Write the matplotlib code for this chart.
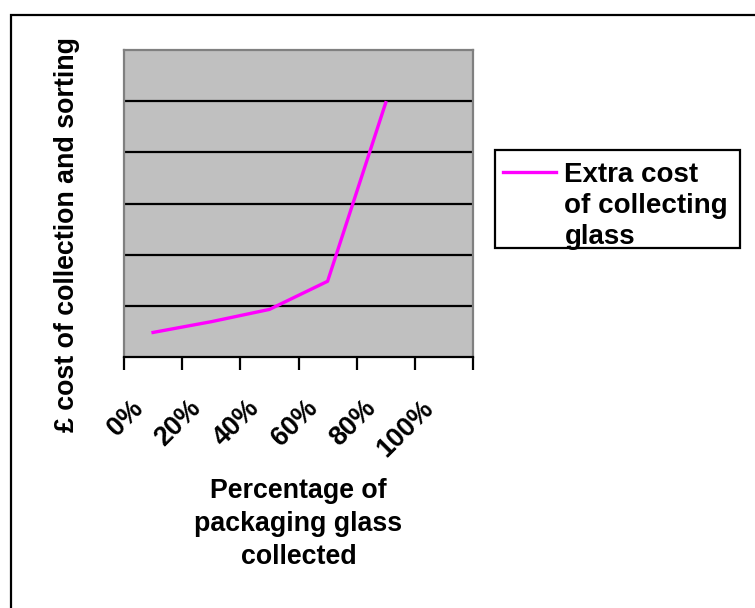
import numpy as np
import matplotlib
matplotlib.use("Agg")
import matplotlib.pyplot as plt
from matplotlib.patches import Rectangle
from matplotlib.transforms import ScaledTranslation
from matplotlib.offsetbox import HPacker

# Chart data
categories = ["0%", "20%", "40%", "60%", "80%", "100%"]
extra_cost = [0.48, 0.69, 0.93, 1.48, 4.97]
series_name = "Extra cost\nof collecting\nglass"
x_title = "Percentage of\npackaging glass\ncollected"
y_title = "£ cost of collection and sorting"

plt.rcParams["font.family"] = ["Liberation Sans", "DejaVu Sans"]
plt.rcParams["font.weight"] = "bold"
FS = 19.3
FS_LEG = 20

W, H = 755, 608
fig = plt.figure(figsize=(W / 100, H / 100), dpi=100)
fig.patch.set_facecolor("white")

# outer chart frame (runs off the right and bottom edges)
fig.add_artist(Rectangle((11 / W, -0.1), 1.2, (1 - 15 / H) + 0.1,
                         transform=fig.transFigure, fill=False,
                         edgecolor="black", linewidth=1.6, clip_on=False))

ax = fig.add_axes([124 / W, 1 - 357 / H, (473 - 124) / W, (357 - 50) / H])
ax.set_facecolor("#C0C0C0")

n = len(categories)
ax.set_xlim(0, n)
ax.set_ylim(0, 6)

# horizontal gridlines
ax.set_yticks(np.arange(1, 6))
ax.yaxis.grid(True, color="black", linewidth=1.6)
ax.set_axisbelow(True)
ax.tick_params(axis="y", length=0, labelleft=False)

# category axis: marks at boundaries, labels at centres
ax.set_xticks(np.arange(n + 1), minor=True)
ax.set_xticks(np.arange(n) + 0.5)
ax.set_xticklabels(categories, rotation=45, ha="right", va="top",
                   fontsize=FS, fontweight="bold")
ax.tick_params(axis="x", which="major", length=0, pad=27.5)
ax.tick_params(axis="x", which="minor", length=9, width=1.6, color="black")
shift = ScaledTranslation(-0.05, 0, fig.dpi_scale_trans)
for lab in ax.get_xticklabels():
    lab.set_transform(lab.get_transform() + shift)

for side in ("left", "top", "right"):
    ax.spines[side].set_color("#808080")
    ax.spines[side].set_linewidth(1.6)
ax.spines["bottom"].set_color("black")
ax.spines["bottom"].set_linewidth(1.6)

xpos = np.arange(len(extra_cost)) + 0.5
ax.plot(xpos, extra_cost, color="#FF00FF", linewidth=2.4,
        label=series_name, clip_on=False, zorder=3)

ax.set_xlabel(x_title, fontsize=FS, fontweight="bold", linespacing=1.36)
ax.xaxis.set_label_coords(0.5, (357 - 524) / 307)
ax.xaxis.label.set_va("center")

ax.set_ylabel(y_title, fontsize=FS, fontweight="bold")
ax.yaxis.label.set_va("center")
ax.yaxis.set_label_coords((67 - 124) / 349, (357 - 235) / 307)

# legend box
fig.add_artist(Rectangle((495 / W, 1 - 248 / H), 245 / W, 98 / H,
                         transform=fig.transFigure, fill=False,
                         edgecolor="black", linewidth=1.6, zorder=4))
leg = fig.legend(handles=ax.get_lines(), labels=[series_name],
                 loc="upper left", bbox_to_anchor=(495 / W, 1 - 154 / H),
                 bbox_transform=fig.transFigure, borderaxespad=0,
                 frameon=False, handlelength=1.9, handletextpad=0.3,
                 borderpad=0.3, handleheight=0.7,
                 prop={"size": FS_LEG, "weight": "bold"})
leg.set_zorder(5)
for t in leg.get_texts():
    t.set_linespacing(1.25)
for hp in leg.findobj(HPacker):
    hp.align = "top"

fig.savefig("out.png", dpi=100, facecolor="white")
